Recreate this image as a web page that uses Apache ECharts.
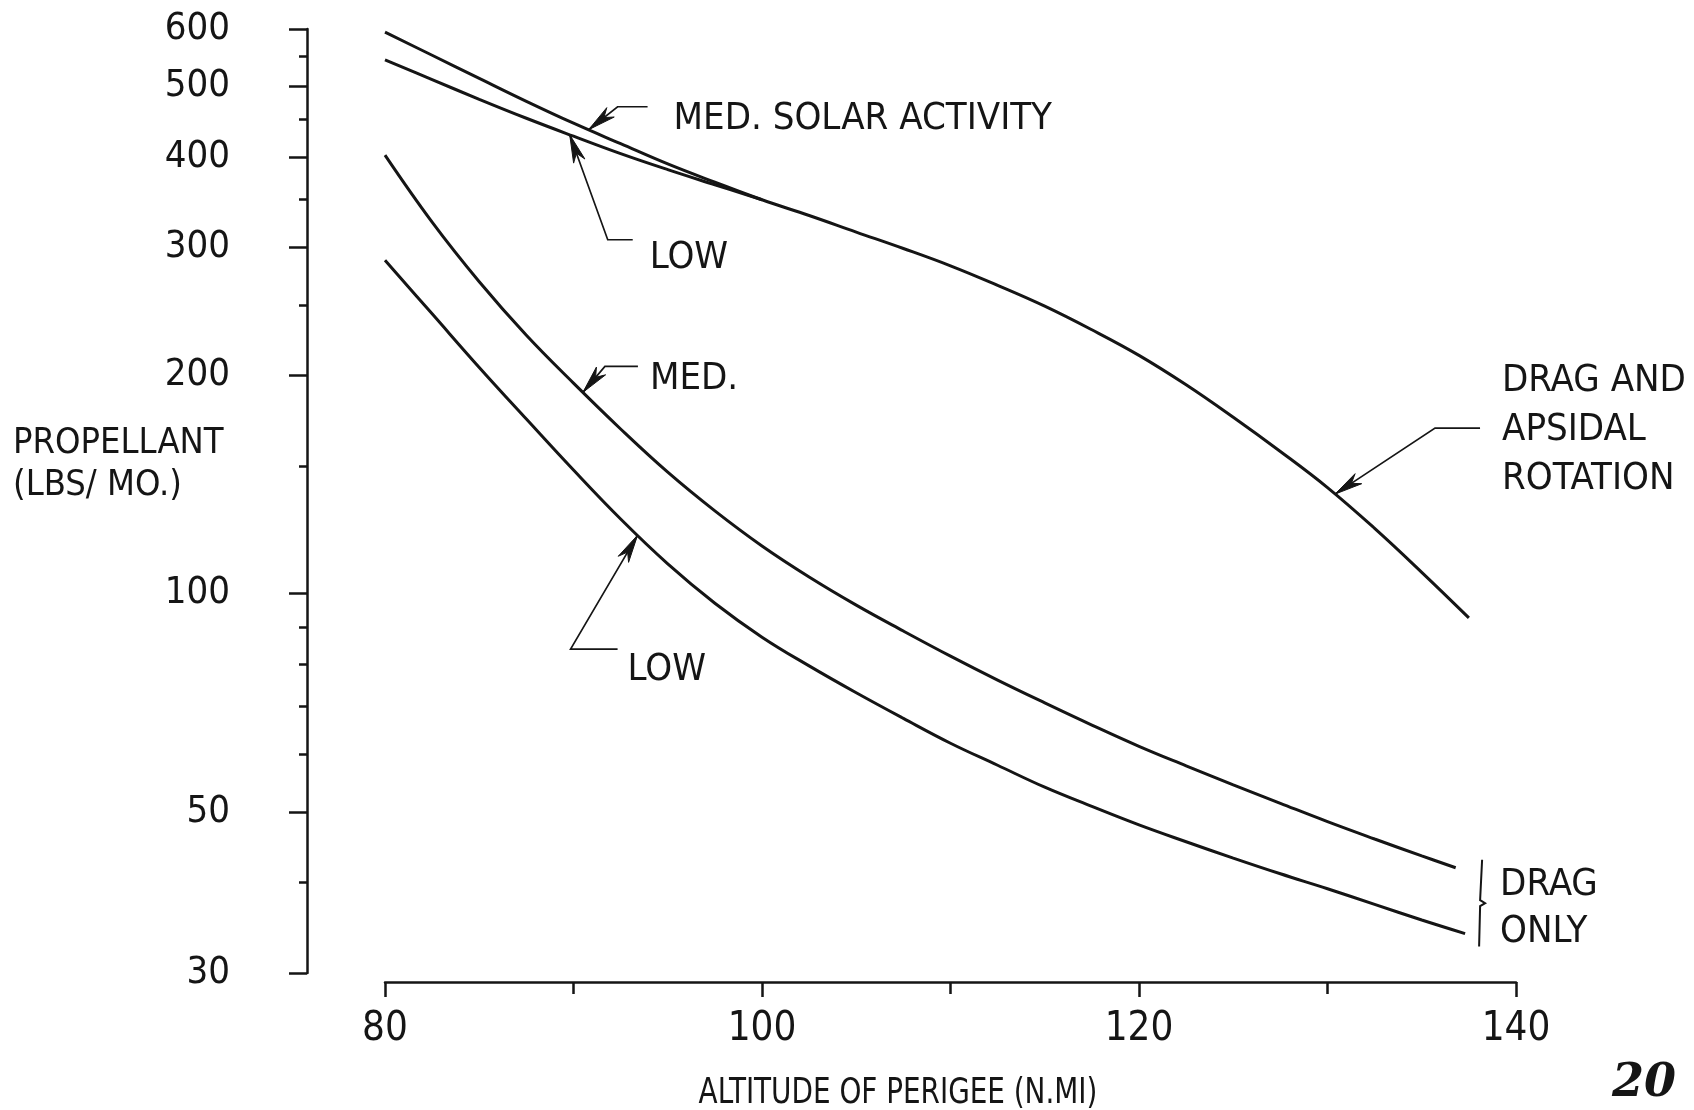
<!DOCTYPE html>
<html>
<head>
<meta charset="utf-8">
<title>Propellant vs Altitude of Perigee</title>
<script src="https://cdn.jsdelivr.net/npm/echarts@6/dist/echarts.min.js"></script>
<style>
  html, body { margin: 0; padding: 0; background: #ffffff; }
  #chart { width: 1694px; height: 1110px; }
</style>
</head>
<body>
<div id="chart"></div>
<script>
// Propellant required (lbs/month) against altitude of perigee (n.mi)

// Drag and apsidal rotation, medium solar activity
const altApsidalMed  = [80, 82.5, 85, 87.5, 90, 92.5, 95, 97.5, 100, 102.5, 105, 107.5, 110, 112.5, 115, 117.5, 120, 122.5, 125, 127.5, 130, 132.5, 135, 137.5];
const propApsidalMed = [594, 552, 513, 477, 445, 417, 391, 369, 349, 332, 315, 299, 283, 266, 249, 231, 213, 194, 175, 157, 140, 123, 107, 92.6];

// Drag and apsidal rotation, low solar activity (joins the medium curve near 100)
const altApsidalLow  = [80, 82.5, 85, 87.5, 90, 92.5, 95, 97.5, 100];
const propApsidalLow = [544, 511, 480, 452, 427, 404, 384, 366, 349];

// Drag only, medium solar activity
const altDragMed  = [80, 82.5, 85, 87.5, 90, 92.5, 95, 97.5, 100, 102.5, 105, 107.5, 110, 112.5, 115, 117.5, 120, 122.5, 125, 127.5, 130, 132.5, 135, 136.8];
const propDragMed = [402, 325, 269, 227, 195, 168.6, 147, 130, 116.3, 105.4, 96.4, 88.8, 82.0, 76.0, 70.7, 65.9, 61.6, 57.9, 54.5, 51.4, 48.5, 45.9, 43.5, 41.9];

// Drag only, low solar activity
const altDragLow  = [80, 82.5, 85, 87.5, 90, 92.5, 95, 97.5, 100, 102.5, 105, 107.5, 110, 112.5, 115, 117.5, 120, 122.5, 125, 127.5, 130, 132.5, 135, 137.3];
const propDragLow = [288, 243, 205, 174, 148, 126.7, 109.9, 97.0, 87.1, 79.5, 73.0, 67.3, 62.2, 58.0, 54.1, 50.9, 48.0, 45.5, 43.2, 41.1, 39.2, 37.3, 35.5, 34.0];

// Axis ticks
const xTickValues = [80, 100, 120, 140];
const yLabelValues = [30, 50, 100, 200, 300, 400, 500, 600];
const yMinorValues = [40, 60, 70, 80, 90, 150, 250, 350, 450, 550];

const INK = '#151515';
const FONT = '"Liberation Sans Narrow", "DejaVu Sans Condensed", "Arial Narrow", sans-serif';

function pairs(xs, ys) { return xs.map((x, i) => [x, ys[i]]); }

const chart = echarts.init(document.getElementById('chart'), null, { renderer: 'canvas' });

const curveStyle = { color: INK, width: 3 };
function curve(name, xs, ys) {
  return {
    type: 'line', name: name, data: pairs(xs, ys),
    xAxisIndex: 0, yAxisIndex: 0,
    symbol: 'none', smooth: 0.4, silent: true,
    lineStyle: curveStyle
  };
}

chart.setOption({
  animation: false,
  backgroundColor: '#ffffff',
  grid: { left: 385, right: 178, top: 29, bottom: 137, containLabel: false, outerBoundsMode: 'none' },
  xAxis: {
    type: 'value', min: 80, max: 140, interval: 20, offset: 9,
    axisLine: { show: true, lineStyle: { color: INK, width: 2.5 } },
    axisTick: { show: true, length: 15, lineStyle: { color: INK, width: 2.5 } },
    minorTick: { show: true, splitNumber: 2, length: 12, lineStyle: { color: INK, width: 2.5 } },
    axisLabel: { margin: 28, fontSize: 40, fontFamily: FONT, color: INK,
      customValues: xTickValues },
    splitLine: { show: false }, minorSplitLine: { show: false }
  },
  yAxis: [
    {
      type: 'log', logBase: 10, min: 30, max: 600, position: 'left', offset: 78,
      axisLine: { show: true, lineStyle: { color: INK, width: 2.5 } },
      axisTick: { show: true, length: 18, customValues: yLabelValues, lineStyle: { color: INK, width: 2.5 } },
      axisLabel: { customValues: yLabelValues, margin: 77, fontSize: 38, fontFamily: FONT, color: INK },
      splitLine: { show: false }
    },
    {
      type: 'log', logBase: 10, min: 30, max: 600, position: 'left', offset: 78,
      axisLine: { show: false },
      axisTick: { show: true, length: 8, customValues: yMinorValues, lineStyle: { color: INK, width: 2.5 } },
      axisLabel: { show: false },
      splitLine: { show: false }
    }
  ],
  series: [
    curve('Drag and apsidal rotation, med.', altApsidalMed, propApsidalMed),
    curve('Drag and apsidal rotation, low', altApsidalLow, propApsidalLow),
    curve('Drag only, med.', altDragMed, propDragMed),
    curve('Drag only, low', altDragLow, propDragLow)
  ]
});

// Log-linear interpolation along a curve, used to anchor the callouts
function valueAt(xs, ys, x) {
  for (let i = 0; i < xs.length - 1; i++) {
    if (x >= xs[i] && x <= xs[i + 1]) {
      const t = (x - xs[i]) / (xs[i + 1] - xs[i]);
      const a = Math.log10(ys[i]), b = Math.log10(ys[i + 1]);
      return Math.pow(10, a + t * (b - a));
    }
  }
  return ys[ys.length - 1];
}
function px(x, y) { return chart.convertToPixel({ seriesIndex: 0 }, [x, y]); }
function tipOn(xs, ys, x) { return px(x, valueAt(xs, ys, x)); }

const graphics = [];
function text(str, x, y, size, opts) {
  const o = opts || {};
  const el = {
    type: 'text', silent: true,
    x: x, y: y,
    style: {
      text: str, x: 0, y: 0,
      font: (o.style || '') + ' ' + size + 'px ' + (o.family || FONT),
      fill: INK,
      align: o.align || 'left', textAlign: o.align || 'left',
      verticalAlign: 'middle', textVerticalAlign: 'middle',
      lineHeight: o.lineHeight || Math.round(size * 1.25)
    }
  };
  if (o.scaleX) { el.scaleX = o.scaleX; }
  graphics.push(el);
}
// Callout: arrow at the curve, a slanted leg to an elbow, then a short horizontal run
function callout(tip, elbow, end, label, textDx, textDy, lineHeight) {
  const e = [tip[0] + elbow[0], tip[1] + elbow[1]];
  const f = [tip[0] + end[0], tip[1] + end[1]];
  graphics.push({
    type: 'polyline', silent: true,
    shape: { points: [tip, e, f] },
    style: { stroke: INK, lineWidth: 1.7, fill: null }
  });
  const dx = e[0] - tip[0], dy = e[1] - tip[1];
  const len = Math.hypot(dx, dy);
  const ux = dx / len, uy = dy / len, nx = -uy, ny = ux;
  const L = 28, W = 6;
  graphics.push({
    type: 'polygon', silent: true,
    shape: { points: [
      tip,
      [tip[0] + ux * L + nx * W, tip[1] + uy * L + ny * W],
      [tip[0] + ux * L * 0.7, tip[1] + uy * L * 0.7],
      [tip[0] + ux * L - nx * W, tip[1] + uy * L - ny * W]
    ] },
    style: { fill: INK, stroke: INK, lineWidth: 1 }
  });
  text(label, tip[0] + textDx, tip[1] + textDy, 38, { lineHeight: lineHeight });
}

callout(tipOn(altApsidalMed, propApsidalMed, 90.8), [29, -23], [59, -23], 'MED. SOLAR ACTIVITY', 85, -11);
callout(tipOn(altApsidalLow, propApsidalLow, 89.8), [38, 105], [63, 105], 'LOW', 80, 123);
callout(tipOn(altDragMed, propDragMed, 90.5), [22, -26], [55, -26], 'MED.', 67, -13);
callout(tipOn(altDragLow, propDragLow, 93.4), [-67, 114], [-20, 114], 'LOW', -10, 135);
callout(tipOn(altApsidalMed, propApsidalMed, 130.4), [100, -66], [145, -66], 'DRAG AND\nAPSIDAL\nROTATION', 167, -64, 49);

// Brace grouping the two drag-only curves
const endMed = px(altDragMed[altDragMed.length - 1], propDragMed[propDragMed.length - 1]);
const endLow = px(altDragLow[altDragLow.length - 1], propDragLow[propDragLow.length - 1]);
const bx = endLow[0] + 15;
const bTop = endMed[1] - 8, bBot = endLow[1] + 13, bMid = (bTop + bBot) / 2;
graphics.push({
  type: 'polyline', silent: true,
  shape: { points: [[bx + 2, bTop], [bx, bMid - 3], [bx + 5, bMid], [bx, bMid + 3], [bx - 1, bBot]] },
  style: { stroke: INK, lineWidth: 2, fill: null }
});
text('DRAG\nONLY', bx + 20, bMid + 5, 38, { lineHeight: 47 });

// Axis titles
text('PROPELLANT\n(LBS/ MO.)', 13, 465, 36, { lineHeight: 42 });
text('ALTITUDE OF PERIGEE (N.MI)', 898, 1094, 36, { align: 'center', scaleX: 0.86 });

// Page number
text('20', 1612, 1084, 46, { style: 'italic bold', family: '"DejaVu Serif", serif' });

chart.setOption({ graphic: { elements: graphics } });
</script>
</body>
</html>
